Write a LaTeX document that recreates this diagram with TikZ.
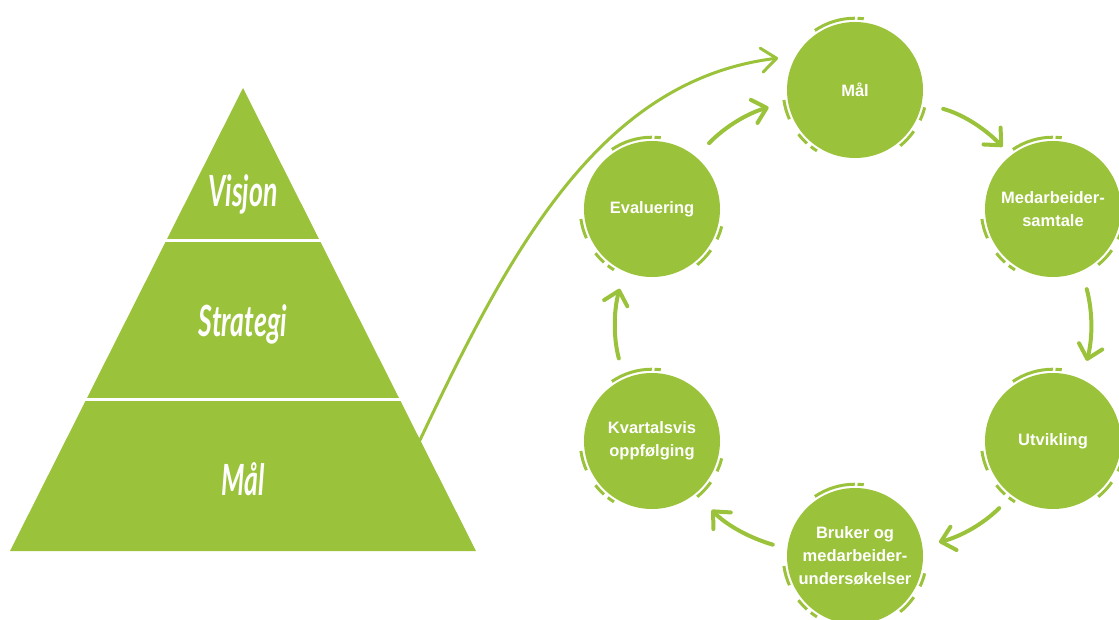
\documentclass[tikz,border=0pt]{standalone}
\usepackage{fontspec}
\setmainfont{Liberation Sans}
\newfontfamily\hand{Lato}
\usetikzlibrary{arrows.meta,calc}
\definecolor{lg}{HTML}{9AC23A}
\newcommand\decor[1]{%
  \foreach \a/\b in {90/124,83/88,188/204,218/228,232/238,-25/-14,-51/-35}{%
    \draw[deco] ($(#1.center)+(\a:71.8)$) arc[start angle=\a,end angle=\b,radius=71.8];}}
\begin{document}
\begin{tikzpicture}[x=1pt,y=1pt,
  bub/.style={circle, fill=lg, minimum size=136pt, inner sep=0pt, text=white,
    font=\fontsize{16.5}{23}\selectfont\bfseries, align=center},
  cyc/.style={draw=lg, line width=4pt, line cap=round,
    -{Straight Barb[length=13pt,width=24pt,round]}},
  big/.style={draw=lg, line width=3pt, line cap=round,
    -{Straight Barb[length=15pt,width=24pt,round]}},
  deco/.style={draw=lg, line width=3pt},
  lvl/.style={text=white, font=\hand\bfseries\itshape\fontsize{43}{45}\selectfont, xscale=0.62, anchor=base}]
\useasboundingbox (0,0) rectangle (1119,-619);
% pyramid
\fill[lg] (243,-88) -- (10,-551) -- (476,-551) -- cycle;
\draw[white, line width=3pt] (150,-240) -- (340,-240);
\draw[white, line width=3pt] (70,-399) -- (420,-399);
\node[lvl] (visjon) at (243,-206) {Visjon};
\node[lvl] (strategi) at (243,-336) {Strategi};
\node[lvl] (pmal) at (243,-495) {Mål};
\coordinate (pyr) at (420,-440);
% circles
\node[bub] (mal) at (855,-90) {Mål};
\node[bub] (med) at (1053,-209) {Medarbeider-\\samtale};
\node[bub] (utv) at (1053,-441) {Utvikling};
\node[bub] (bru) at (855,-556) {Bruker og\\medarbeider-\\undersøkelser};
\node[bub] (kva) at (652,-441) {Kvartalsvis\\oppfølging};
\node[bub] (eva) at (652,-209) {Evaluering};
\decor{mal}\decor{med}\decor{utv}\decor{bru}\decor{kva}\decor{eva}
% cycle arrows
\draw[cyc, shorten <=19pt, shorten >=20pt] (eva.50) to[bend left=15] (mal.190);
\draw[cyc, shorten <=22pt, shorten >=12pt] (mal.-11) to[bend left=15] (med.128);
\draw[cyc, shorten <=19pt, shorten >=19pt] (med.-65) to[bend left=15] (utv.65);
\draw[cyc, shorten <=18pt, shorten >=17pt] (utv.-127) to[bend left=15] (bru.8);
\draw[cyc, shorten <=15pt, shorten >=23pt] (bru.174) to[bend left=15] (kva.-50);
\draw[cyc, shorten <=21pt, shorten >=18pt] (kva.114) to[bend left=15] (eva.246);
% big curve
\draw[big, shorten >=18pt] (pyr) .. controls (510,-250) and (600,-80) .. (mal.150);
\end{tikzpicture}
\end{document}
